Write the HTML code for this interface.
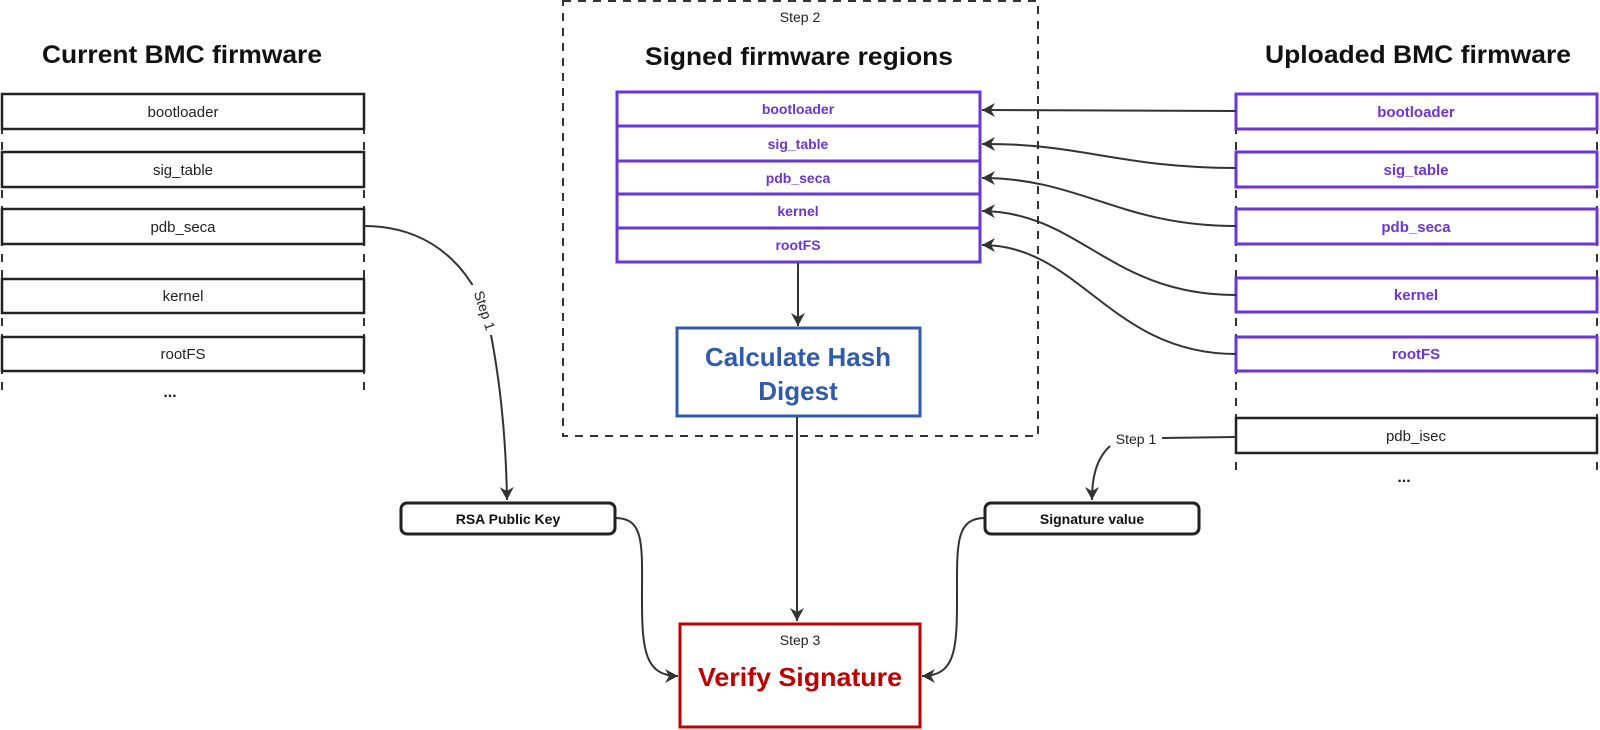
<!DOCTYPE html>
<html><head><meta charset="utf-8"><style>
html,body{margin:0;padding:0;background:#fff;}
svg{display:block;font-family:"Liberation Sans","DejaVu Sans",sans-serif;}
</style></head><body>
<svg width="1600" height="730" viewBox="0 0 1600 730" xmlns="http://www.w3.org/2000/svg">
<defs>
<marker id="ar" viewBox="0 0 16 16" refX="14" refY="8" markerWidth="16" markerHeight="16" markerUnits="userSpaceOnUse" orient="auto">
<path d="M1,1 L14,8 L1,15 L5,8 Z" fill="#333"/>
</marker>
</defs>
<text x="182" y="63" text-anchor="middle" font-size="25" font-weight="bold" fill="#111" textLength="280" lengthAdjust="spacingAndGlyphs">Current BMC firmware</text>
<text x="799" y="65" text-anchor="middle" font-size="25" font-weight="bold" fill="#111" textLength="308" lengthAdjust="spacingAndGlyphs">Signed firmware regions</text>
<text x="1418" y="63" text-anchor="middle" font-size="25" font-weight="bold" fill="#111" textLength="306" lengthAdjust="spacingAndGlyphs">Uploaded BMC firmware</text>

<g stroke="#333" stroke-width="2" stroke-dasharray="8,8">
<line x1="2" y1="94" x2="2" y2="392"/><line x1="364" y1="94" x2="364" y2="392"/>
<line x1="1236" y1="94" x2="1236" y2="475"/><line x1="1597" y1="94" x2="1597" y2="475"/>
</g>
<g fill="#fff" stroke="#222" stroke-width="2.5">
<rect x="2" y="94" width="362" height="35"/>
<rect x="2" y="152" width="362" height="35"/>
<rect x="2" y="209" width="362" height="35"/>
<rect x="2" y="279" width="362" height="34"/>
<rect x="2" y="337" width="362" height="34"/>
<rect x="1236" y="418" width="361" height="35"/>
</g>
<g font-size="15" fill="#222" text-anchor="middle">
<text x="183" y="117">bootloader</text>
<text x="183" y="175">sig_table</text>
<text x="183" y="232">pdb_seca</text>
<text x="183" y="301">kernel</text>
<text x="183" y="359">rootFS</text>
<text x="1416" y="441">pdb_isec</text>
</g>
<text x="170" y="397" font-size="16" font-weight="bold" text-anchor="middle" fill="#222">...</text>
<text x="1404" y="482" font-size="16" font-weight="bold" text-anchor="middle" fill="#222">...</text>

<g fill="#fff" stroke="#6a35d9" stroke-width="3">
<rect x="1236" y="94" width="361" height="35"/>
<rect x="1236" y="152" width="361" height="35"/>
<rect x="1236" y="209" width="361" height="35"/>
<rect x="1236" y="278" width="361" height="34"/>
<rect x="1236" y="337" width="361" height="34"/>
</g>
<g font-size="15" font-weight="bold" fill="#6a35d9" text-anchor="middle">
<text x="1416" y="117">bootloader</text>
<text x="1416" y="175">sig_table</text>
<text x="1416" y="232">pdb_seca</text>
<text x="1416" y="300">kernel</text>
<text x="1416" y="359">rootFS</text>
</g>

<rect x="563" y="1" width="475" height="435" fill="none" stroke="#333" stroke-width="2" stroke-dasharray="8,7"/>
<text x="800" y="22" font-size="14" text-anchor="middle" fill="#222">Step 2</text>
<g fill="#fff" stroke="#6a35d9" stroke-width="3">
<rect x="617" y="92" width="363" height="34"/>
<rect x="617" y="126" width="363" height="35"/>
<rect x="617" y="161" width="363" height="33"/>
<rect x="617" y="194" width="363" height="34"/>
<rect x="617" y="228" width="363" height="34"/>
</g>
<g font-size="14" font-weight="bold" fill="#6a35d9" text-anchor="middle">
<text x="798" y="114">bootloader</text>
<text x="798" y="149">sig_table</text>
<text x="798" y="183">pdb_seca</text>
<text x="798" y="216">kernel</text>
<text x="798" y="250">rootFS</text>
</g>
<rect x="677" y="328" width="243" height="88" fill="#fff" stroke="#2f5aad" stroke-width="3"/>
<text x="798" y="366" font-size="26" font-weight="bold" fill="#2f5aad" text-anchor="middle" textLength="186" lengthAdjust="spacingAndGlyphs">Calculate Hash</text>
<text x="798" y="400" font-size="26" font-weight="bold" fill="#2f5aad" text-anchor="middle">Digest</text>

<g fill="none" stroke="#333" stroke-width="2" marker-end="url(#ar)">
<line x1="798" y1="263" x2="798" y2="326"/>
<line x1="797" y1="417" x2="797" y2="621"/>
<path d="M1236,111 L982,110"/>
<path d="M1236,168 C1120,168 1080,143 982,144"/>
<path d="M1236,226 C1120,226 1080,178 982,178"/>
<path d="M1236,295 C1110,295 1080,212 982,211"/>
<path d="M1236,354 C1110,354 1080,245 982,245"/>
<path d="M364,226 C440,226 480,280 490,330 C500,380 506,440 507,500"/>
<path d="M1236,437 L1162,438 M1110,446 C1095,460 1092,480 1092,500"/>
<path d="M615,518 C645,518 642,545 642,600 C642,650 645,676 678,676"/>
<path d="M985,518 C955,518 957,545 957,600 C957,650 955,676 922,676"/>
</g>
<rect x="470" y="285" width="24" height="50" fill="#fff"/>
<text x="0" y="0" font-size="14" fill="#222" text-anchor="middle" transform="translate(480,312) rotate(72)">Step 1</text>
<text x="1136" y="444" font-size="14" fill="#222" text-anchor="middle">Step 1</text>

<rect x="401" y="503" width="214" height="31" rx="6" fill="#fff" stroke="#222" stroke-width="3"/>
<text x="508" y="524" font-size="14" font-weight="bold" text-anchor="middle" fill="#111">RSA Public Key</text>
<rect x="985" y="503" width="214" height="31" rx="6" fill="#fff" stroke="#222" stroke-width="3"/>
<text x="1092" y="524" font-size="14" font-weight="bold" text-anchor="middle" fill="#111">Signature value</text>

<rect x="680" y="624" width="240" height="103" fill="#fff" stroke="#c00000" stroke-width="3"/>
<text x="800" y="645" font-size="14" text-anchor="middle" fill="#222">Step 3</text>
<text x="800" y="686" font-size="26" font-weight="bold" fill="#c00000" text-anchor="middle" textLength="204" lengthAdjust="spacingAndGlyphs">Verify Signature</text>
</svg>
</body></html>
